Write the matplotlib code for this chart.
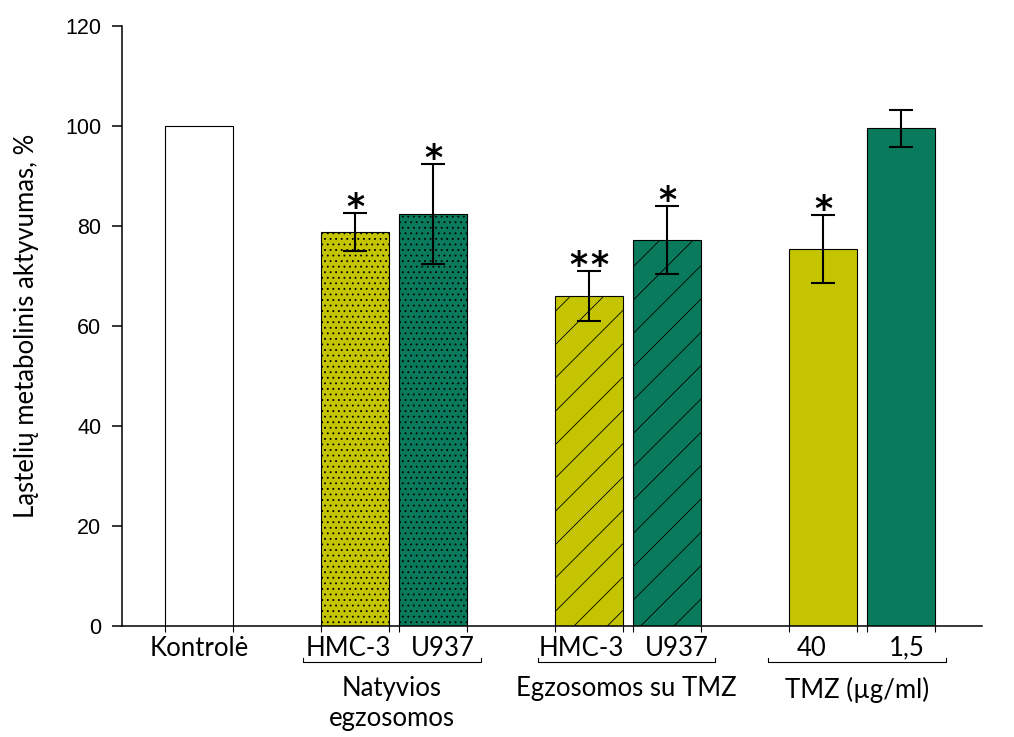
import matplotlib.pyplot as plt
from matplotlib.transforms import blended_transform_factory

YELLOW = "#c4c400"
GREEN = "#0a7a5c"

# bar data
categories = ["Kontrolė", "HMC-3", "U937", "HMC-3", "U937", "40", "1,5"]
positions = [0, 2, 3, 5, 6, 8, 9]
values = [100, 78.8, 82.4, 66.0, 77.2, 75.4, 99.6]
errors = [0, 3.8, 10.0, 5.0, 6.8, 6.8, 3.7]
stars = [0, 1, 1, 2, 1, 1, 0]
colors = ["white", YELLOW, GREEN, YELLOW, GREEN, YELLOW, GREEN]
hatches = ["", "...", "...", "/", "/", "", ""]

groups = ["Natyvios\negzosomos", "Egzosomos su TMZ", "TMZ (µg/ml)"]
group_centers = [2.47, 5.48, 8.44]

BAR_W = 0.87
# the category labels sit a little apart from the bar centres
LABEL_SHIFT = [0, -0.09, 0.12, -0.10, 0.13, -0.14, 0.08]

plt.rcParams["hatch.linewidth"] = 0.6
plt.rcParams["font.family"] = ["Liberation Sans", "DejaVu Sans"]

fig = plt.figure(figsize=(10.14, 7.37), dpi=100)
ax = fig.add_axes([0.1203, 0.1506, 0.8481, 0.8141])

for x, v, c, h in zip(positions, values, colors, hatches):
    ax.bar(x, v, width=BAR_W, color=c, edgecolor="black", linewidth=0.8,
           hatch=h, zorder=2)

for x, v, e in zip(positions, values, errors):
    if e > 0:
        ax.errorbar(x, v, yerr=e, fmt="none", ecolor="black", elinewidth=1.5,
                    capsize=8.6, capthick=1.5, zorder=3)

# significance asterisks above the error bars
for x, v, e, n in zip(positions, values, errors, stars):
    if n == 0:
        continue
    offsets = [0] if n == 1 else [-0.13, 0.13]
    for dx in offsets:
        ax.text(x + dx, v + e - 1.0, "*", ha="center", va="baseline",
                fontsize=25, fontweight="bold", family="DejaVu Sans",
                zorder=4)

ax.set_xlim(-0.99, 10.04)
ax.set_ylim(0, 120)
ax.set_yticks(range(0, 121, 20))
ax.tick_params(axis="y", direction="out", length=7, width=1.1,
               labelsize=15.5, pad=8)

ax.set_xticks([p + s for p, s in zip(positions, LABEL_SHIFT)])
ax.set_xticklabels(categories, family="Lato", fontsize=18.5)
ax.tick_params(axis="x", which="major", length=0, pad=7)

edges = []
for x in positions:
    edges += [x - BAR_W / 2, x + BAR_W / 2]
ax.set_xticks(edges, minor=True)
ax.tick_params(axis="x", which="minor", direction="out", length=4, width=0.8)

for side in ["top", "right"]:
    ax.spines[side].set_visible(False)
for side in ["left", "bottom"]:
    ax.spines[side].set_linewidth(1.1)

ax.set_ylabel("Ląstelių metabolinis aktyvumas, %", family="Lato",
              fontsize=18.5, labelpad=19)

# group brackets and labels under the axis
trans = blended_transform_factory(ax.transData, ax.transAxes)
for gc, label in zip(group_centers, groups):
    x0, x1 = gc - 1.14, gc + 1.14
    ax.plot([x0, x0, x1, x1], [-0.053, -0.06, -0.06, -0.053], color="black",
            linewidth=0.8, transform=trans, clip_on=False)
    ax.text(gc, -0.084, label, transform=trans, ha="center", va="top",
            family="Lato", fontsize=18.5, linespacing=1.25)

fig.savefig("out.png", dpi=100)
